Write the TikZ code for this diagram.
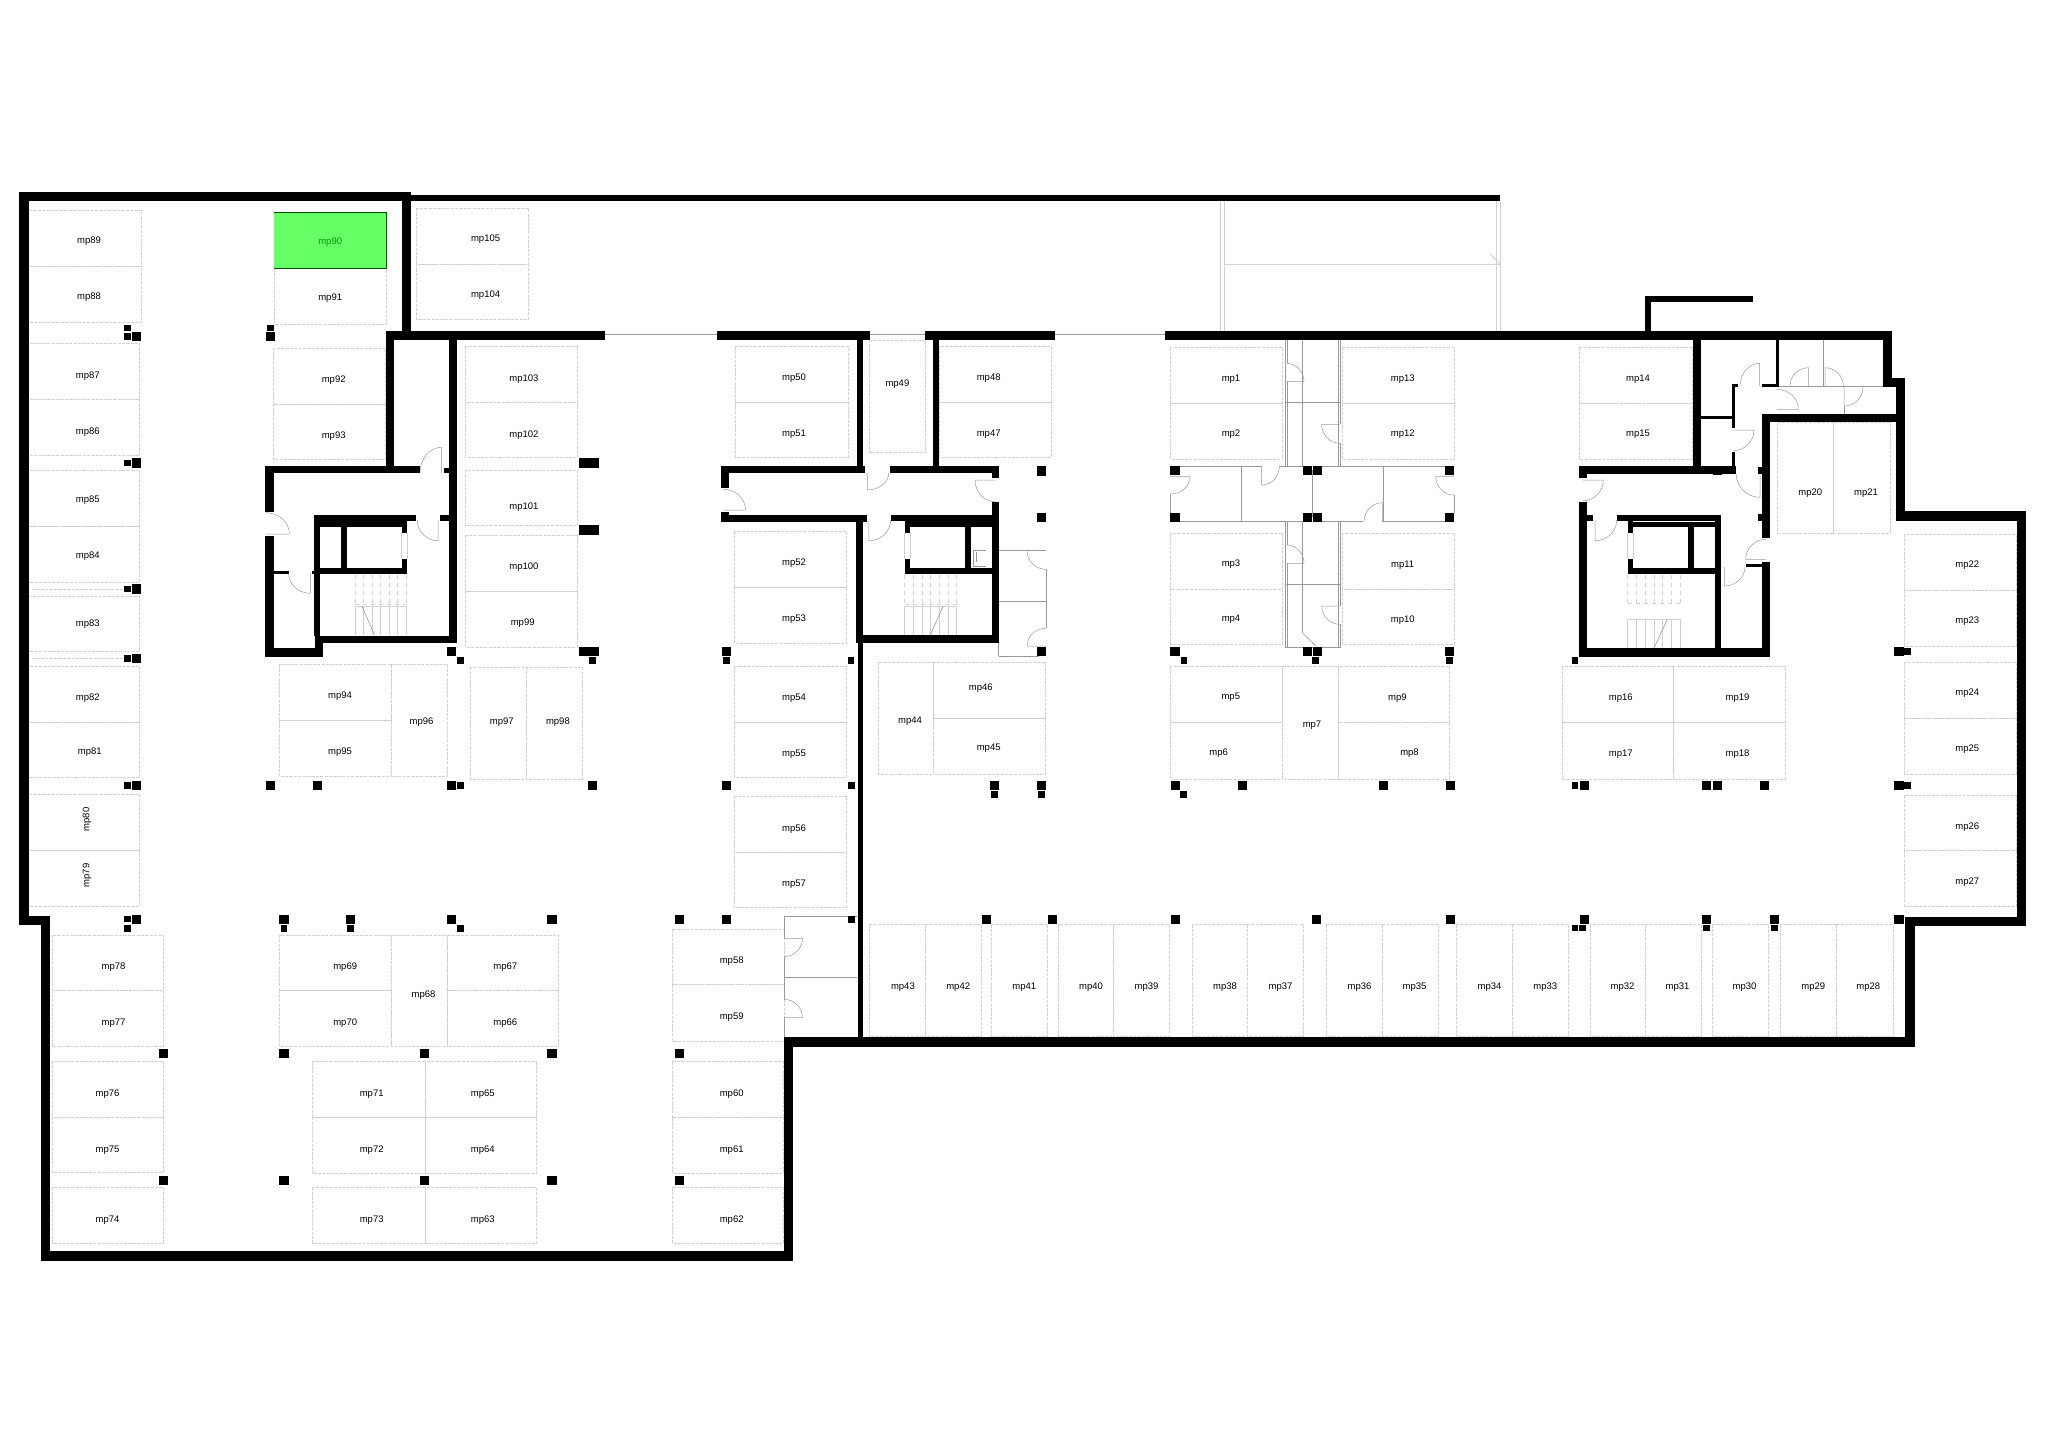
\documentclass[tikz,border=0pt]{standalone}
\usepackage{fontspec}
\setmainfont{Liberation Sans}
\usetikzlibrary{calc}
\definecolor{spotgray}{gray}{0.82}
\definecolor{linegray}{gray}{0.6}
\definecolor{palegray}{gray}{0.82}
\definecolor{takengreen}{HTML}{66FF66}
\tikzset{
  wall/.style={fill=black},
  spot/.style={draw=spotgray, line width=0.25pt, dash pattern=on 1.6pt off 0.6pt},
  spotname/.style={inner sep=0pt, yshift=-0.6pt, font=\fontsize{4.75}{5.5}\selectfont},
  gline/.style={draw=linegray, line width=0.3pt},
  paleline/.style={draw=palegray, line width=0.5pt},
  doorline/.style={draw=linegray, line width=0.25pt},
  stairline/.style={draw=palegray, line width=0.25pt},
  stairdash/.style={draw=palegray, line width=0.25pt, dash pattern=on 2pt off 2pt}
}

\begin{document}
\begin{tikzpicture}[x=0.5pt, y=-0.5pt]
  \useasboundingbox (0,0) rectangle (2048,1446);

  % parking spots: name, corners, place of the name
  \foreach \name/\xa/\ya/\xb/\yb/\lx/\ly in {
    mp89/28.5/210.3/141.5/266.3/89/240.3, mp88/28.5/266.3/141.5/322.3/89/296,
    mp87/28.5/343.3/139.6/399.3/87.8/375, mp86/28.5/399.3/139.6/455.3/87.8/430.7,
    mp85/28.5/470.7/139.6/526.7/87.8/499.3, mp84/28.5/526.7/139.6/582.3/87.8/555.3,
    mp83/28.5/596/139.6/651.3/87.8/622.7, mp82/28.5/666/139.6/722.3/87.8/697,
    mp81/28.5/722.3/139.6/777.7/89.8/750.8,
    mp91/274.4/268.3/386.7/324.7/330.2/297,
    mp92/273.2/348/385.5/404/333.7/379, mp93/273.2/404/385.5/459.3/333.7/434.7,
    mp105/416.4/208/528.7/264/485.6/237.7, mp104/416.4/264/528.7/319.3/485.6/293.7,
    mp103/465.4/346.3/577.7/402.3/523.9/377.7, mp102/465.4/402.3/577.7/457.3/523.9/433.7,
    mp101/465.4/470/577.7/525.3/523.9/506, mp100/465.4/535.3/577.7/591.3/523.9/566.3,
    mp99/465.4/591.3/577.7/647.3/522.7/622,
    mp94/279.6/664.4/391.5/720.3/340/695.4, mp95/279.6/720.3/391.5/776.5/340/751.2,
    mp96/391.5/664.4/447.6/776.5/421.5/720.7,
    mp97/470.5/667.2/526.3/779.3/501.8/720.7, mp98/526.3/667.2/582.4/779.3/557.9/720.7,
    mp78/52.2/934.8/163.7/990.3/113.5/965.7, mp77/52.2/990.3/163.7/1046.5/113.5/1021.6,
    mp76/52.2/1061/163.7/1116.8/107.6/1092.7, mp75/52.2/1116.8/163.7/1172.7/107.6/1148.6,
    mp74/52.2/1187.5/163.7/1243.4/107.6/1218.5,
    mp69/279.6/934.8/391.5/990.3/345.2/965.7, mp70/279.6/990.3/391.5/1046.5/345.2/1021.6,
    mp68/391.5/934.8/447.6/1046.5/423.5/993.9,
    mp67/447.6/934.8/558.7/990.3/505.3/965.7, mp66/447.6/990.3/558.7/1046.5/505.3/1021.6,
    mp71/312.4/1061.4/425/1117.2/371.7/1092.7, mp72/312.4/1117.2/425/1173.5/371.7/1148.6,
    mp65/425/1061.4/536.6/1117.2/482.8/1092.7, mp64/425/1117.2/536.6/1173.5/482.8/1148.6,
    mp73/312.4/1187.5/425/1243.4/371.7/1218.5, mp63/425/1187.5/536.6/1243.4/482.8/1218.5,
    mp50/735.2/346.3/848.3/402.3/794.1/377.3, mp51/735.2/402.3/848.3/457.3/794.1/433,
    mp49/869.7/340/925.4/452.7/897.4/383,
    mp48/939.3/346.3/1050.8/402.3/988.7/377.3, mp47/939.3/402.3/1050.8/457.3/988.7/433,
    mp52/734.4/531.3/846.7/587/794.1/562.3, mp53/734.4/587/846.7/643/794.1/618,
    mp54/734.4/666/846.7/722.3/794.1/697, mp55/734.4/722.3/846.7/777.7/794.1/752.7,
    mp56/734.4/796/846.7/852/794.1/827.7, mp57/734.4/852/846.7/907.3/794.1/883.3,
    mp58/672.4/929.3/783.9/984.7/731.7/960.3, mp59/672.4/984.7/783.9/1041/731.7/1016,
    mp60/672.3/1061.7/783.3/1117.3/731.7/1092.7, mp61/672.3/1117.3/783.3/1173.3/731.7/1148.7,
    mp62/672.3/1187.3/783.3/1243.3/731.7/1218.7,
    mp44/878.4/662.3/933.3/774.3/910/720.3,
    mp46/933.3/662.3/1045.6/718.3/980.8/687.3, mp45/933.3/718.3/1045.6/774.3/988.7/746.7,
    mp43/869.3/924.3/925.4/1036.7/902.9/986.3, mp42/925.4/924.3/981.6/1036.7/958.2/986.3,
    mp41/991.5/924.3/1047.6/1036.7/1024.3/986.3, mp40/1058.7/924.3/1113.6/1036.7/1091.1/986.3,
    mp39/1113.6/924.3/1169.5/1036.7/1146.5/986.3, mp38/1191.8/924.3/1247.4/1036.7/1225/986.3,
    mp37/1247.4/924.3/1303.5/1036.7/1280.6/986.3, mp36/1326.4/924.3/1382.5/1036.7/1359.6/986.3,
    mp35/1382.5/924.3/1438.7/1036.7/1414.6/986.3, mp34/1456.4/924.3/1512.5/1036.7/1489.6/986.3,
    mp33/1512.5/924.3/1568.7/1036.7/1545.2/986.3, mp32/1589.9/924.3/1645.4/1036.7/1622.5/986.3,
    mp31/1645.4/924.3/1701.5/1036.7/1677.5/986.3, mp30/1712.4/924.3/1768.6/1036.7/1744.5/986.3,
    mp29/1780.6/924.3/1836.7/1036.7/1813.2/986.3, mp28/1836.7/924.3/1892.8/1036.7/1868.2/986.3,
    mp1/1170.7/347.3/1282.7/403.3/1231/378.3, mp2/1170.7/403.3/1282.7/459.7/1231/432.7,
    mp13/1342.3/347.3/1454.7/403.3/1402.7/377.7, mp12/1342.3/403.3/1454.7/459.7/1402.7/433.3,
    mp3/1170.7/533.3/1282.7/589/1231/563.3, mp4/1170.7/589/1282.7/644.3/1231/618,
    mp11/1342.3/533.3/1454.7/589/1402.7/563.7, mp10/1342.3/589/1454.7/644.3/1402.7/619.3,
    mp14/1579.3/347.3/1692/403.3/1638/377.7, mp15/1579.3/403.3/1692/459.7/1638/433.3,
    mp20/1777.7/422.7/1833.7/533.3/1810.3/492.3, mp21/1833.7/422.7/1890/533.3/1866/492.3,
    mp22/1904.3/534.3/2016/590.3/1967.3/564.3, mp23/1904.3/590.3/2016/646/1967.3/620.3,
    mp24/1904.3/662/2016/718.3/1967.3/692.3, mp25/1904.3/718.3/2016/774/1967.3/748,
    mp26/1904.3/795.3/2016/850.7/1967.3/825.7, mp27/1904.3/850.7/2016/906.7/1967.3/881.3,
    mp5/1170.6/666.3/1282.3/722.7/1230.8/696.3, mp6/1170.6/722.7/1282.3/779/1218.7/752,
    mp7/1282.3/666.3/1338.4/779/1312/724,
    mp9/1338.4/666.3/1449.5/722.7/1397.4/697.3, mp8/1338.4/722.7/1449.5/779/1409.5/752,
    mp16/1561.8/666.3/1673.5/722.7/1620.8/697.3, mp17/1561.8/722.7/1673.5/779/1620.8/753.3,
    mp19/1673.5/666.3/1785.2/722.7/1737.6/697.3, mp18/1673.5/722.7/1785.2/779/1737.6/753.3}
  {
    \draw[spot] (\xa,\ya) rectangle (\xb,\yb);
    \node[spotname] (\name) at (\lx,\ly) {\name};
  }

  % the two with a turned name
  \draw[spot] (28.5,794.6) rectangle (139.6,850.4);
  \node[spotname, xshift=0.6pt, yshift=0.6pt, rotate=90] (mp80) at (85.8,819.5) {mp80};
  \draw[spot] (28.5,850.4) rectangle (139.6,905.9);
  \node[spotname, xshift=0.6pt, yshift=0.6pt, rotate=90] (mp79) at (85.8,875.4) {mp79};

  % the marked one
  \fill[takengreen] (274.4,212) rectangle (386.3,268.3);
  \draw[black!70!green, line width=0.3pt] (274.4,212) -- (386.3,212) -- (386.3,268.3) -- (274.4,268.3);
  \node[spotname, text=green!60!black] (mp90) at (330.2,241) {mp90};

  \draw[spot] (32,589) -- (122.6,589);
  \draw[spot] (32,658.3) -- (122.6,658.3);

  % thin partitions
  \foreach \xa/\ya/\xb/\yb in {
    605/334/716.6/334, 870/334/925/334, 1054.7/334/1165.4/334,
    999.4/550/1046/550, 1046/569.3/1046/628.3, 999.4/601.7/1046/601.7,
    998.6/656/1039/656, 998.6/643/998.6/656,
    783.9/916.7/857/916.7, 783.9/917/783.9/938.3, 783.9/956.7/783.9/999.3,
    783.9/1017.7/783.9/1037, 783.9/977.3/857/977.3,
    1285/340/1285/466, 1287/340/1287/363.3, 1287/381.7/1287/466, 1302.7/340/1302.7/466,
    1338/340/1338/466, 1340/340/1340/424.3, 1340/443.3/1340/466, 1285/402.7/1340/402.7,
    1170.7/466.7/1261.7/466.7, 1279.3/466.7/1302.7/466.7, 1321.7/466.7/1450/466.7,
    1241.7/467/1241.7/521.7, 1383.3/467/1383.3/521.7, 1312.7/470/1312.7/517,
    1170.7/521.7/1302.7/521.7, 1321.7/521.7/1363/521.7, 1382.3/521.7/1454/521.7,
    1170.7/494/1170.7/513, 1454.3/495/1454.3/513,
    1285/521.7/1285/647.7, 1287/521.7/1287/545, 1287/563.3/1287/647.7,
    1302.7/521.7/1302.7/633.3, 1302.7/633.3/1316/646, 1338/521.7/1338/647.7,
    1340/521.7/1340/606, 1340/624.3/1340/647.7, 1285/584/1340/584, 1285/647.7/1340/647.7,
    1778.7/386/1882.7/386, 1882.7/386/1896/386, 1823.3/340/1823.3/386, 1844/406/1844/414.3,
    973.7/550/985.5/550, 973.7/566.7/985.5/566.7, 973.7/550/973.7/566.7, 976/552/976/562}
  {
    \draw[gline] (\xa,\ya) -- (\xb,\yb);
  }

  % pale lines of the canopy and the shaft windows
  \foreach \xa/\ya/\xb/\yb in {
    1220.7/201/1220.7/331, 1224.7/201/1224.7/331, 1496.3/201/1496.3/331, 1500.3/201/1500.3/331,
    1224.7/264/1500/264, 1490/254/1500/264,
    401.7/532.7/401.7/559, 407.3/532.7/407.3/559,
    904.5/532.7/904.5/559.3, 910.4/532.7/910.4/559.3,
    1627.7/533.3/1627.7/559.3, 1633.3/533.3/1633.3/559.3}
  {
    \draw[paleline] (\xa,\ya) -- (\xb,\yb);
  }

  % stairs: left edge, step, bottom, foot and head of the break line
  \foreach \sx/\dx/\yb/\bxa/\bxb/\byb/\yc in {
    355/8.5/635/361.8/374.5/606/604, 904.5/8.7/635/943.2/930.2/606/604,
    1627.7/8.7/648/1667.3/1654/619.3/603}
  {
    \foreach \k in {0,...,6} {
      \draw[stairdash] ({\sx+\k*\dx},575) -- ({\sx+\k*\dx},\yc);
      \draw[stairline] ({\sx+\k*\dx},\byb) -- ({\sx+\k*\dx},\yb);
    }
    \draw[stairdash] (\sx,\yc) -- ({\sx+6*\dx},\yc);
    \draw[stairline] (\sx,\byb) -- ({\sx+6*\dx},\byb);
    \draw[gline] (\bxa,\byb) -- (\bxb,\yb);
  }

  % doors: hinge, tip of the leaf, end of the swing
  \foreach \hx/\hy/\lx/\ly/\ex/\ey in {
    441.3/473/441.3/447.3/420/473, 265.7/534/289.4/534/265.7/512.7,
    438.1/520/438.1/540.7/417.2/520, 310.4/573/310.4/593.3/288.6/573,
    867.3/473/867.3/490/888.7/473, 995.4/480/975/480/995.4/501.7,
    723.4/510/745.5/510/723.4/489.3, 868.9/520/868.9/540.7/890.6/520,
    1046/550.7/1027/550.7/1046/569.3, 1046/646/1027/646/1046/628.3,
    783.9/938.3/802.5/938.3/783.9/956.7, 783.9/1017.7/802.5/1017.7/783.9/999.3,
    1286.7/381.7/1304/381.7/1286.7/363.3, 1340/424.3/1321.7/424.3/1340/443.3,
    1261.7/466.7/1261.7/485/1279.3/466.7, 1170.7/476.7/1190/476.7/1170.7/494,
    1454/476.7/1435.7/476.7/1454/495, 1382.3/521.7/1382.3/502.7/1364/521.7,
    1286.7/563.3/1304/563.3/1286.7/545, 1340/606/1321.7/606/1340/624.3,
    1759.7/386/1759.7/363.3/1740/386, 1776.7/409.3/1798.3/409.3/1776.7/389.3,
    1808.3/386/1808.3/367.7/1790/386, 1825/386/1825/367.7/1843.3/386,
    1844/387/1844/406/1863/387, 1733/430/1754/430/1733/450.7,
    1760/473.3/1760/497.3/1736/473.3, 1583/480/1603.3/480/1583/500.7,
    1595/520/1595/540.7/1616.7/520, 1766/559.3/1745.7/559.3/1766/539.3,
    1724.3/567/1724.3/586/1745/567}
  {
    \draw[doorline] (\hx,\hy) -- (\lx,\ly)
      .. controls ($(\lx,\ly)+0.55*(\ex,\ey)-0.55*(\hx,\hy)$)
      and ($(\ex,\ey)+0.55*(\lx,\ly)-0.55*(\hx,\hy)$) .. (\ex,\ey);
  }

  % walls
  \foreach \xa/\ya/\xb/\yb in {
    18.6/192.3/411/201.3, 18.6/192.3/28.5/925.2, 18.6/916.3/50.2/925.2,
    41.1/916.3/50.2/1260.6, 41.1/1251.4/792.6/1260.6, 783.9/1037.3/792.6/1260.6,
    783.9/1037.3/1914.6/1046.7, 1905/916.7/1914.6/1046.7, 1905/916.7/2026.3/926,
    2016.5/511/2026.3/926, 1896/511/2026.3/520.7, 1896/377.7/1905.3/520.7,
    1882.7/377.7/1905.3/386.7, 1882.7/330.7/1892/386.7, 1165.4/330.7/1892/340,
    925/330.7/1054.7/340, 716.6/330.7/870/340, 386/330.7/605/340,
    402/192.3/411/340, 411/195/1500/201.3,
    386/330.7/394.2/473, 265/465.7/420/473.3, 444.4/468/449/473.3, 449/335/457/643.3,
    265/465.7/273.6/511.7, 265/535.7/273.6/656.7, 265/648.3/322.7/656.7,
    315/635.7/457/643.3, 315/635.7/322.7/656.7, 314.4/515/320.3/636,
    314.4/515/416.4/520.7, 440/515/449/520.7, 320/521/407.3/526.7,
    401.7/520/407.3/532.7, 401.7/559/407.3/574, 320/568.3/407.3/574,
    341/526/347/574, 273.6/571/288.6/574, 311.6/571/315/574,
    857.4/340/863.3/466, 933.3/340/938.9/466, 720.6/465.7/865/473.3,
    889.8/465.7/999.4/473.3, 720.6/465.7/729.3/488.3, 991.5/466/999.4/478.3,
    720.6/512.3/729.3/522.3, 720.6/515/867/522.3, 890.6/515/991.5/520.7,
    991.5/502.3/999.4/643.3, 855.8/515/863.3/643.3, 857.8/643/863.3/1037.3,
    855.8/635/999.4/643.3, 904.5/521.3/991.5/526.7, 904.5/520.7/910.4/532.7,
    904.5/559.3/910.4/574, 904.5/568.3/991.5/574, 964.6/526.7/970.5/574,
    1644.7/296/1650.7/331, 1644.7/296/1753/302, 1692.7/340/1701/473,
    1579/466/1736/474, 1579/466/1586.7/478, 1579/502.3/1586.7/656.7,
    1579/648.3/1770/656.7, 1762.3/562/1770/656.7, 1762.3/414.3/1770/537.7,
    1762.3/414.3/1905/422.3, 1586.7/515/1593.3/520.7, 1617.3/514.7/1721/520.7,
    1715.3/515/1721/650, 1627.7/521.7/1716/527.3, 1627.7/520.7/1633.3/533.3,
    1627.7/559.3/1633.3/574.3, 1627.7/568.3/1716/574.3, 1688.3/527/1694/574,
    1746/564.3/1762.3/567, 1776/340/1778.7/386.7, 1762/383.7/1778/386.7,
    1731.7/383.7/1735/428.3, 1731.7/451.7/1735/473.3, 1731.7/383.7/1738.3/386.7,
    1701/416.3/1733/419.3}
  {
    \fill[wall] (\xa,\ya) rectangle (\xb,\yb);
  }

  % large pillars
  \foreach \cx/\cy in {
    136.4/336.7, 270.5/336.7, 136.4/463, 584/463, 594/463, 584/530, 594/530,
    136.4/589, 136.4/658.3, 584/651.7, 594/651.7, 451.5/651.7,
    136.4/785.4, 270.5/785.4, 317.5/785.4, 451.5/785.4, 592.3/785.4,
    136.4/919.5, 283.9/919.5, 350.7/919.5, 451.5/919.5, 552/919.5,
    163.3/1053.3, 283.9/1053.3, 424.7/1053.3, 552/1053.3,
    163.3/1180.7, 283.9/1180.7, 424.7/1180.7, 552/1180.7,
    1041.3/471, 1041.3/517.7, 1041.3/651.7, 726.1/651.7,
    726.1/785.3, 994.2/785.3, 1041.3/785.3, 679.3/919.3, 726.1/919.3,
    986.3/919.3, 1052.3/919.3, 679.3/1053.3, 679.3/1180.7,
    1175/470.7, 1175/517.3, 1307.3/470.7, 1317.7/470.7, 1307.3/517.3, 1317.7/517.3,
    1449.7/470.7, 1449.7/517.3, 1175/651.7, 1307.3/651.7, 1317.7/651.7, 1449.7/651.7,
    1717.7/470.7, 1899/651.7, 1175.2/785.3, 1242.2/785.3, 1383.1/785.3, 1450.1/785.3,
    1584.1/785.3, 1706.7/785.3, 1717.6/785.3, 1764.5/785.3, 1899/785.3,
    1175.2/919.3, 1316.1/919.3, 1450.1/919.3, 1584.1/919.3, 1706.7/919.3,
    1774.8/919.3, 1899/919.3}
  {
    \fill[wall] ($(\cx,\cy)+(-4.6,-4.6)$) rectangle ($(\cx,\cy)+(4.6,4.6)$);
  }

  % small pillars
  \foreach \cx/\cy in {
    127.7/328, 127.7/336.7, 270.5/328, 127.7/463, 127.7/589, 127.7/658.3,
    460.3/660.3, 592.3/660.3, 127.7/785.4, 460.3/785.4,
    127.7/919, 127.7/928.4, 283.9/928.4, 350.7/928.4, 460.3/928.4,
    726.1/660.3, 851/660.3, 1184/660.3, 851.1/785.3, 994.2/794.3, 1041.3/794.3,
    851.1/919.3, 1315.7/660.3, 1449.7/660.3, 1575/660.3, 1907.7/651.7,
    1183.8/794.3, 1575/785.3, 1907.7/785.3, 1575/928, 1582.4/928, 1706.7/928, 1774.8/928,
    1761.5/470.7, 1761.5/517.3}
  {
    \fill[wall] ($(\cx,\cy)+(-3.4,-3.4)$) rectangle ($(\cx,\cy)+(3.4,3.4)$);
  }
\end{tikzpicture}
\end{document}
